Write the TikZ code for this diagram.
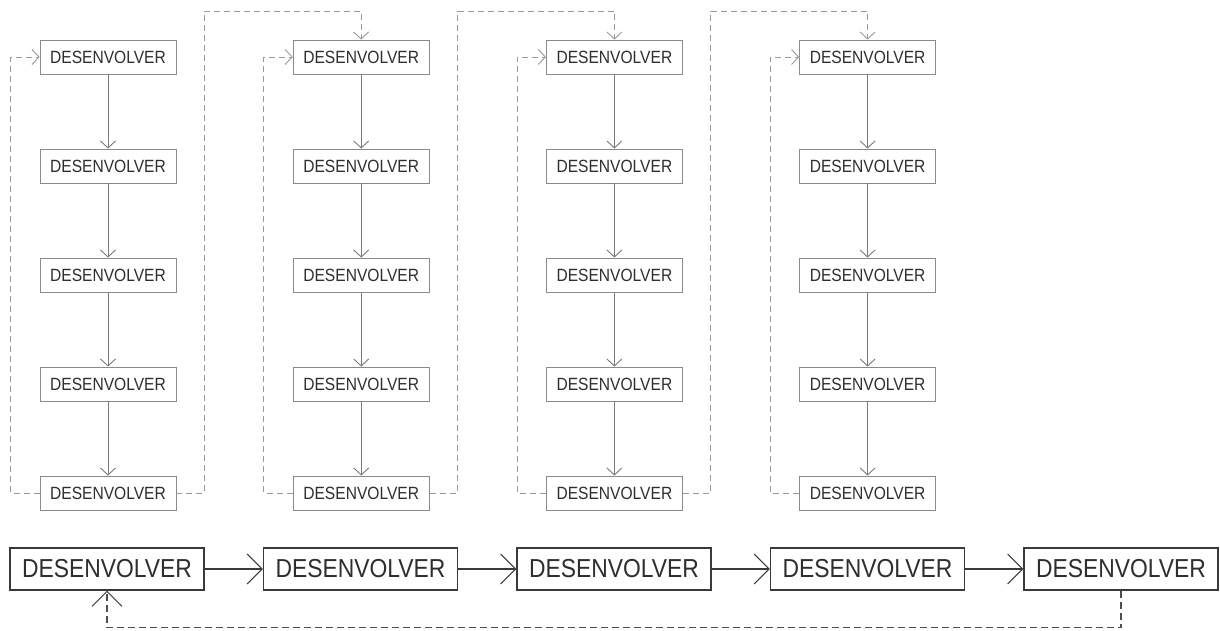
\documentclass[tikz,border=0pt]{standalone}
\usepackage{fontspec}
\setmainfont{Liberation Sans}
\newfontfamily\narrowfont[FakeStretch=0.88]{Liberation Sans}
\usetikzlibrary{arrows.meta}
\definecolor{boxgray}{HTML}{8A8A8A}
\definecolor{textgray}{HTML}{2E2E2E}
\definecolor{linegray}{HTML}{7A7A7A}
\definecolor{dashgray}{HTML}{9A9A9A}
\definecolor{darkline}{HTML}{3A3A3A}
\begin{document}
\begin{tikzpicture}[x=1pt,y=-1pt,
  stepbox/.style={draw=boxgray, line width=0.9pt, minimum width=136pt,
    minimum height=34pt, inner sep=0pt, text=textgray,
    font=\narrowfont\fontsize{17.7}{20}\selectfont},
  bigbox/.style={draw=darkline, line width=1.1pt, minimum width=194pt,
    minimum height=42pt, inner sep=0pt, text=textgray,
    font=\narrowfont\fontsize{26}{29}\selectfont},
  smalltip/.style={-{Straight Barb[length=7pt,width=15pt]}},
  bigtip/.style={-{Straight Barb[length=15pt,width=30pt]}},
  flowarrow/.style={draw=linegray, line width=0.9pt, smalltip},
  backlink/.style={draw=dashgray, line width=0.9pt, dash pattern=on 6pt off 4pt},
  backlinkin/.style={backlink, smalltip},
  mainarrow/.style={draw=darkline, line width=1.1pt, bigtip},
  mainback/.style={draw=darkline!90, line width=1.1pt, dash pattern=on 7pt off 4pt, bigtip},
]
\fill[white] (0,0) rectangle (1220,630);
\useasboundingbox (0,0) rectangle (1220,630);

% four columns of five steps each
\foreach \c in {1,...,4}{
  \foreach \r in {1,...,5}{
    \node[stepbox] (n-\c-\r) at ({108+253.2*(\c-1)}, {57+109*(\r-1)}) {DESENVOLVER};
  }
  \foreach \r [evaluate=\r as \s using int(\r+1)] in {1,...,4}{
    \draw[flowarrow] (n-\c-\r.south) -- (n-\c-\s.north);
  }
  % feedback from the last step to the first one of the column
  \draw[backlinkin] (n-\c-5.west) -- ++(-29,0) |- (n-\c-1.west);
}

% hand-over from one column to the next
\foreach \c [evaluate=\c as \d using int(\c+1)] in {1,...,3}{
  \draw[backlinkin] (n-\c-5.east) -- ++(28,0) -- ++(0,-482) -| (n-\d-1.north);
}

% main sequence
\foreach \i in {1,...,5}{
  \node[bigbox] (b-\i) at ({107+253.5*(\i-1)}, 569) {DESENVOLVER};
}
\foreach \i [evaluate=\i as \j using int(\i+1)] in {1,...,4}{
  \draw[mainarrow] (b-\i.east) -- (b-\j.west);
}
\draw[mainback] (b-5.south) -- ++(0,37) -| (b-1.south);
\end{tikzpicture}
\end{document}
